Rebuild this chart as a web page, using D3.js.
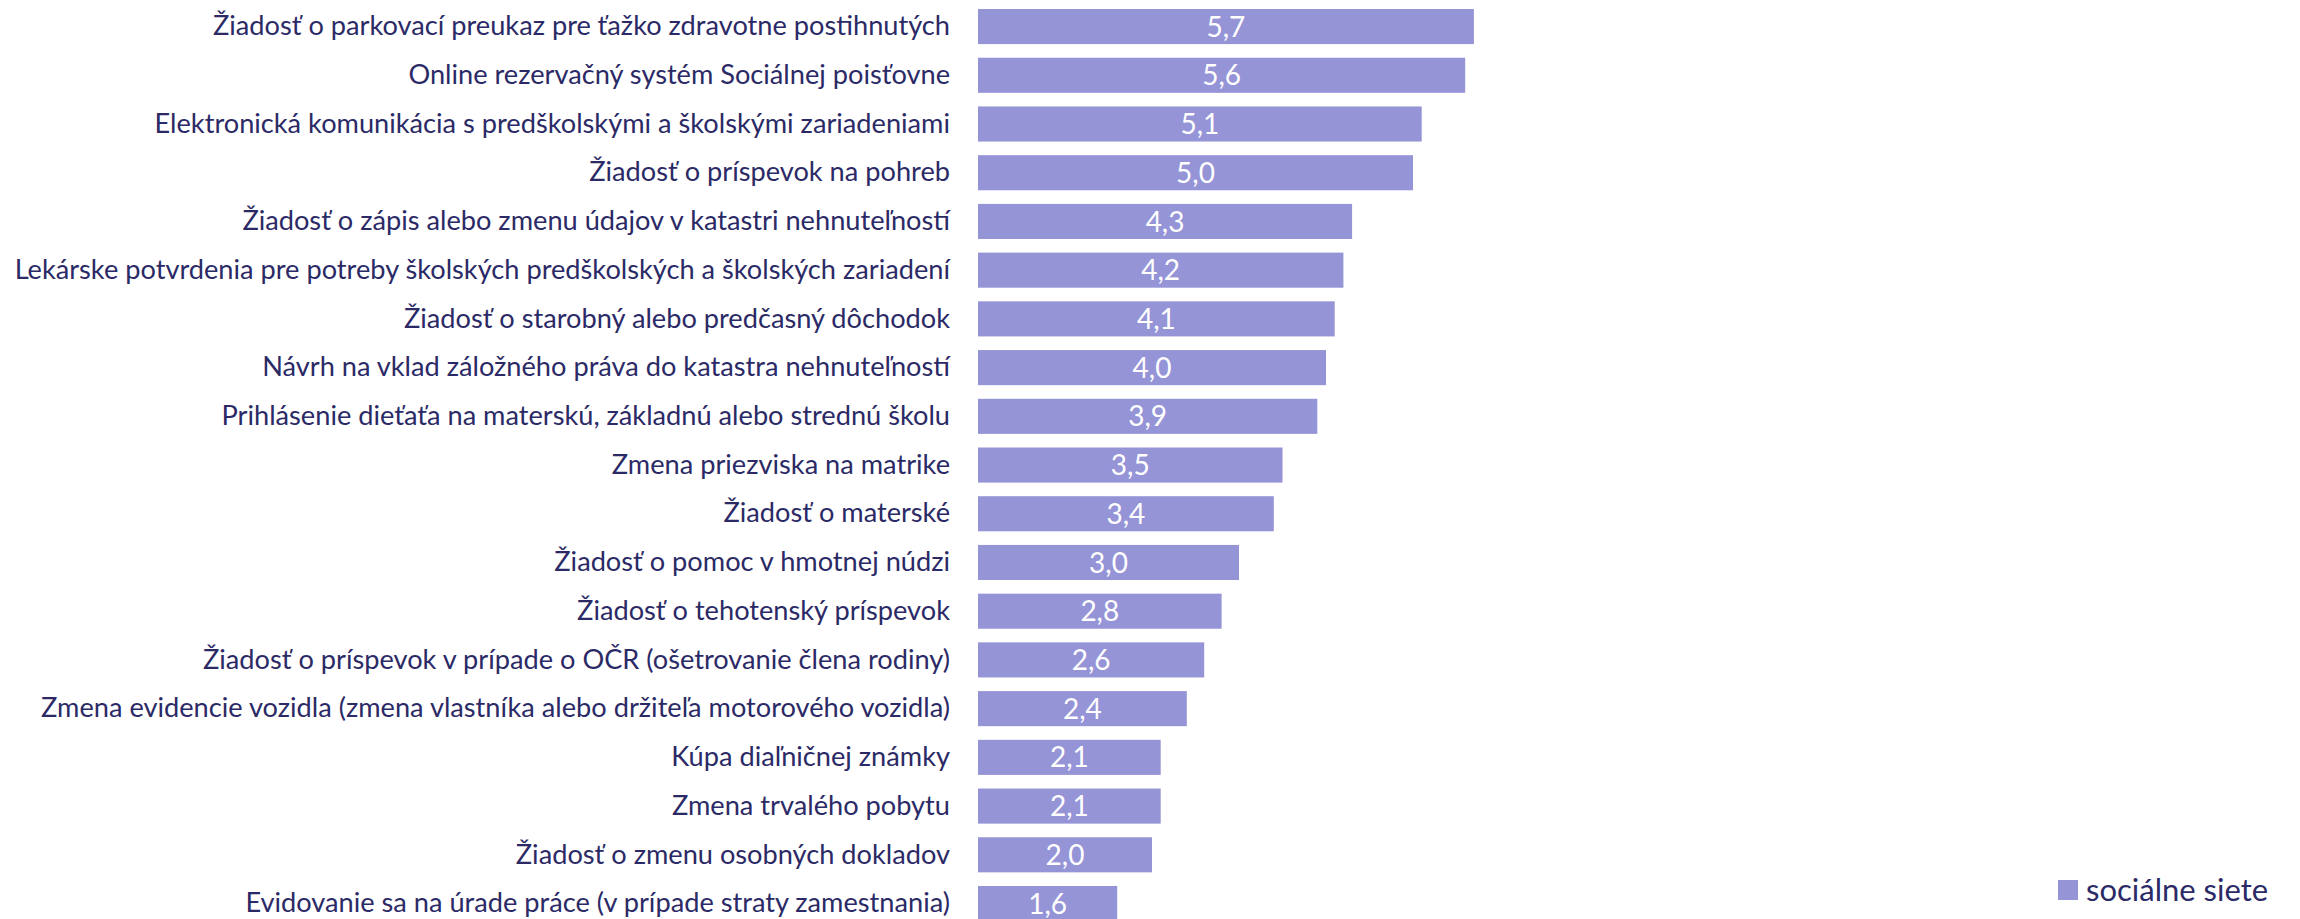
<!DOCTYPE html>
<html>
<head>
<meta charset="utf-8">
<script src="https://cdn.jsdelivr.net/npm/d3@7"></script>
<style>
  html, body { margin: 0; padding: 0; background: #ffffff; }
  svg { display: block; }
</style>
</head>
<body>
<svg id="chart" width="2300" height="919"></svg>
<script>
// Categories, top to bottom
const categories = [
  "Žiadosť o parkovací preukaz pre ťažko zdravotne postihnutých",
  "Online rezervačný systém Sociálnej poisťovne",
  "Elektronická komunikácia s predškolskými a školskými zariadeniami",
  "Žiadosť o príspevok na pohreb",
  "Žiadosť o zápis alebo zmenu údajov v katastri nehnuteľností",
  "Lekárske potvrdenia pre potreby školských predškolských a školských zariadení",
  "Žiadosť o starobný alebo predčasný dôchodok",
  "Návrh na vklad záložného práva do katastra nehnuteľností",
  "Prihlásenie dieťaťa na materskú, základnú alebo strednú školu",
  "Zmena priezviska na matrike",
  "Žiadosť o materské",
  "Žiadosť o pomoc v hmotnej núdzi",
  "Žiadosť o tehotenský príspevok",
  "Žiadosť o príspevok v prípade o OČR (ošetrovanie člena rodiny)",
  "Zmena evidencie vozidla (zmena vlastníka alebo držiteľa motorového vozidla)",
  "Kúpa diaľničnej známky",
  "Zmena trvalého pobytu",
  "Žiadosť o zmenu osobných dokladov",
  "Evidovanie sa na úrade práce (v prípade straty zamestnania)"
];

// Series: sociálne siete
const values = [5.7, 5.6, 5.1, 5.0, 4.3, 4.2, 4.1, 4.0, 3.9, 3.5, 3.4, 3.0, 2.8, 2.6, 2.4, 2.1, 2.1, 2.0, 1.6];

const seriesName = "sociálne siete";
const barColor = "#9594d7";
const textColor = "#2b2a66";
const fontFamily = "Lato, 'Noto Sans', sans-serif";

const svg = d3.select("#chart");

const x = d3.scaleLinear().domain([0, 6]).range([978, 978 + 522]);
const y = d3.scaleBand()
  .domain(categories)
  .range([2.2, 2.2 + categories.length * 48.72])
  .paddingInner(0.28)
  .paddingOuter(0.14);

const fmt = v => d3.format(".1f")(v).replace(".", ",");

// Bars
svg.append("g")
  .selectAll("rect")
  .data(values)
  .join("rect")
  .attr("x", x(0))
  .attr("y", (d, i) => y(categories[i]))
  .attr("width", d => x(d) - x(0))
  .attr("height", y.bandwidth())
  .attr("fill", barColor);

// Category axis labels
const yAxis = d3.axisLeft(y).tickSize(0).tickPadding(28);
const gy = svg.append("g")
  .attr("transform", `translate(${x(0)},0)`)
  .call(yAxis);
gy.select(".domain").remove();
gy.selectAll("text")
  .attr("fill", textColor)
  .style("font-family", fontFamily)
  .style("font-size", "27.2px");

// Value labels centred in bars
svg.append("g")
  .selectAll("text")
  .data(values)
  .join("text")
  .attr("x", d => (x(0) + x(d)) / 2)
  .attr("y", (d, i) => y(categories[i]) + y.bandwidth() / 2)
  .attr("dy", "0.36em")
  .attr("text-anchor", "middle")
  .attr("fill", "#ffffff")
  .style("font-family", fontFamily)
  .style("font-size", "28px")
  .text(fmt);

// Legend
const legend = svg.append("g").attr("transform", "translate(2058,880)");
legend.append("rect")
  .attr("width", 20)
  .attr("height", 20)
  .attr("fill", barColor);
legend.append("text")
  .attr("x", 28)
  .attr("y", 10)
  .attr("dy", "0.36em")
  .attr("fill", textColor)
  .style("font-family", fontFamily)
  .style("font-size", "31px")
  .text(seriesName);
</script>
</body>
</html>
